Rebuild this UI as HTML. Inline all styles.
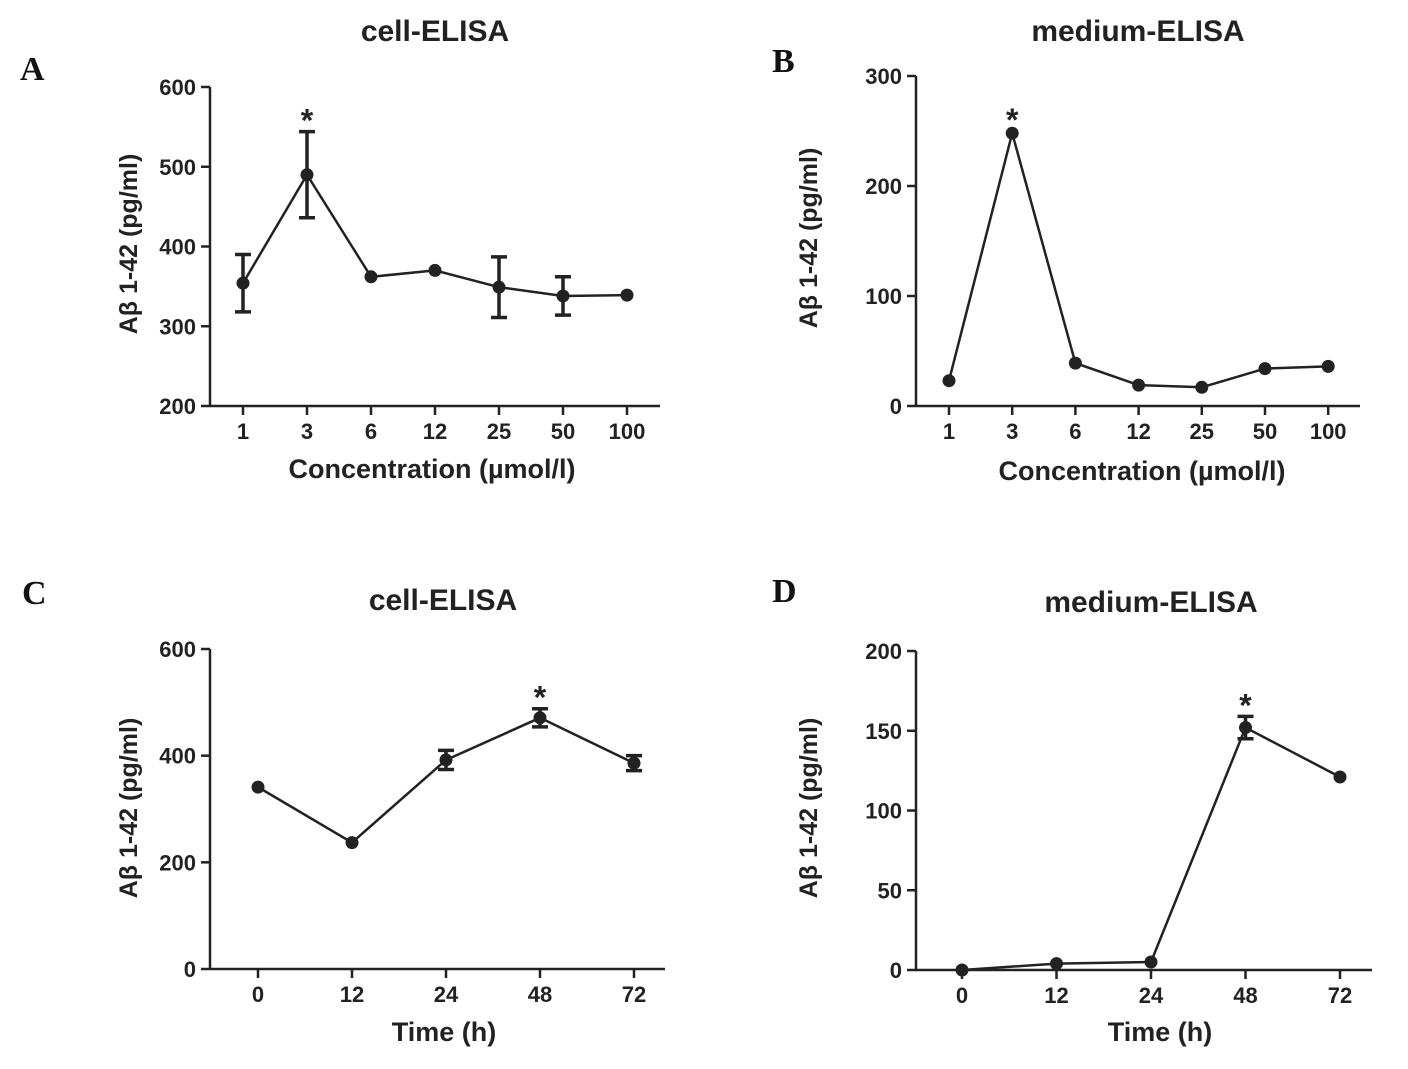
<!DOCTYPE html>
<html><head><meta charset="utf-8"><style>
html,body{margin:0;padding:0;background:#fff}
svg text{font-family:"Liberation Sans",Arial,sans-serif;font-weight:bold;fill:#222}
</style></head><body>
<svg id="chart" width="1408" height="1064" viewBox="0 0 1408 1064" xmlns="http://www.w3.org/2000/svg"></svg>
<script>
// Panel A
const catsA = ["1","3","6","12","25","50","100"];
const valsA = [354,490,362,370,349,338,339];
const errA  = [36,54,0,0,38,24,0];
const ticksA = [200,300,400,500,600];
// Panel B
const catsB = ["1","3","6","12","25","50","100"];
const valsB = [23,248,39,19,17,34,36];
const errB  = [0,0,0,0,0,0,0];
const ticksB = [0,100,200,300];
// Panel C
const catsC = ["0","12","24","48","72"];
const valsC = [341,237,392,471,386];
const errC  = [0,0,18,17,14];
const ticksC = [0,200,400,600];
// Panel D
const catsD = ["0","12","24","48","72"];
const valsD = [0,4,5,152,121];
const errD  = [0,0,0,7,0];
const ticksD = [0,50,100,150,200];
const starA = 1, starB = 1, starC = 3, starD = 3;

const NS="http://www.w3.org/2000/svg";
const svg=document.getElementById('chart');
function mk(tag,attrs,parent,text){const e=document.createElementNS(NS,tag);for(const k in attrs)e.setAttribute(k,attrs[k]);if(text!==undefined)e.textContent=text;(parent||svg).appendChild(e);return e;}

function panel(p){
  const g=mk('g',{});
  
  
  const y=v=>p.y0-(v-p.vmin)/(p.vmax-p.vmin)*(p.y0-p.y1);
  const x=i=>p.xs+i*p.dx;
  const st={stroke:'#222','stroke-width':2.5,fill:'none'};
  const ya=mk('line',Object.assign({x1:p.ax,y1:p.y1,x2:p.ax,y2:p.y0},st),g);
  
  const xa=mk('line',Object.assign({x1:p.ax,y1:p.y0,x2:p.xend,y2:p.y0},st),g);
  
  p.ticks.forEach(t=>{
    mk('line',Object.assign({x1:p.ax-9,y1:y(t),x2:p.ax,y2:y(t)},st),g);
    const tl=mk('text',{x:p.ax-14,y:y(t)+8,'text-anchor':'end','font-size':22},g,String(t));
    
  });
  p.cats.forEach((c,i)=>{
    mk('line',Object.assign({x1:x(i),y1:p.y0,x2:x(i),y2:p.y0+9},st),g);
    const tl=mk('text',{x:x(i),y:p.y0+33,'text-anchor':'middle','font-size':22},g,c);
    
  });
  const pts=p.vals.map((v,i)=>x(i)+','+y(v)).join(' ');
  const ln=mk('polyline',Object.assign({points:pts},st),g);
  
  p.vals.forEach((v,i)=>{
    if(p.err[i]>0){
      const e1=y(v+p.err[i]),e2=y(v-p.err[i]);
      const eb=mk('path',{d:`M${x(i)},${e1}V${e2}M${x(i)-8},${e1}H${x(i)+8}M${x(i)-8},${e2}H${x(i)+8}`,stroke:'#222','stroke-width':3.5,fill:'none'},g);
      
    }
    const c=mk('circle',{cx:x(i),cy:y(v),r:6.5,fill:'#222'},g);
    
  });
  const si=p.star;
  const s=mk('text',{x:x(si),y:y(p.vals[si]+p.err[si])+(p.err[si]?0:-2),'text-anchor':'middle','font-size':32},g,'*');
  
  const ti=mk('text',{x:p.tx,y:p.ty,'text-anchor':'middle','font-size':30},g,p.title);
  
  const xt=mk('text',{x:p.xtx,y:p.xty,'text-anchor':'middle','font-size':27},g,p.xtitle);
  
  const yt=mk('text',{x:0,y:0,'text-anchor':'middle','font-size':25,transform:`translate(${p.ytx},${p.yty}) rotate(-90)`},g,'Aβ 1-42 (pg/ml)');
  
  const lb=mk('text',{x:p.lx,y:p.ly,'font-size':34,style:'font-family:"Liberation Serif",serif;fill:#111'},g,p.id);
  
}
const conc="Concentration (µmol/l)";
panel({id:'A',cats:catsA,vals:valsA,err:errA,ticks:ticksA,vmin:200,vmax:600,y0:406,y1:87,ax:210,xend:660,xs:243,dx:64,star:starA,title:'cell-ELISA',tx:435,ty:41,xtitle:conc,xtx:432,xty:478,ytx:137,yty:244,lx:20,ly:80});
panel({id:'B',cats:catsB,vals:valsB,err:errB,ticks:ticksB,vmin:0,vmax:300,y0:406,y1:76,ax:916,xend:1360,xs:949,dx:63.2,star:starB,title:'medium-ELISA',tx:1138,ty:41,xtitle:conc,xtx:1142,xty:480,ytx:817,yty:238,lx:772,ly:72});
panel({id:'C',cats:catsC,vals:valsC,err:errC,ticks:ticksC,vmin:0,vmax:600,y0:969,y1:649,ax:210,xend:665,xs:258,dx:94,star:starC,title:'cell-ELISA',tx:443,ty:610,xtitle:'Time (h)',xtx:444,xty:1041,ytx:137,yty:808,lx:22,ly:604});
panel({id:'D',cats:catsD,vals:valsD,err:errD,ticks:ticksD,vmin:0,vmax:200,y0:970,y1:651,ax:916,xend:1372,xs:962,dx:94.5,star:starD,title:'medium-ELISA',tx:1151,ty:612,xtitle:'Time (h)',xtx:1160,xty:1041,ytx:817,yty:808,lx:772,ly:602});
</script>
</body></html>
